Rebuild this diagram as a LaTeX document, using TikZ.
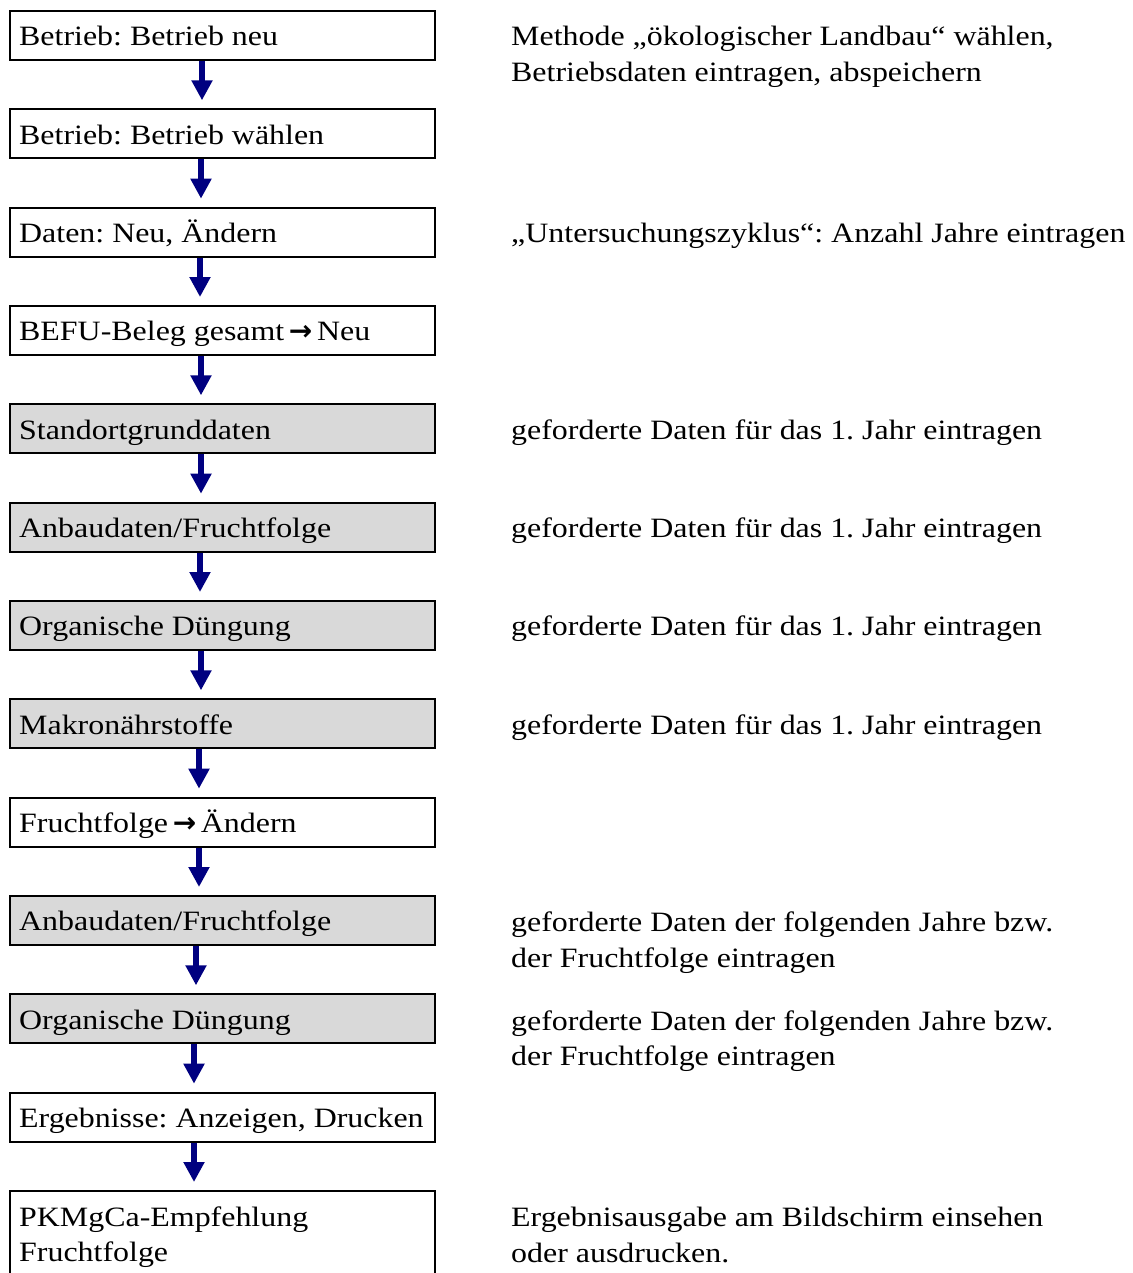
\documentclass[tikz,border=0pt]{standalone}
\usepackage{fontspec}
\setmainfont{Liberation Serif}[FakeStretch=1.14]
\newfontfamily\arrfont{DejaVu Sans}
\usetikzlibrary{arrows.meta}
\definecolor{boxgray}{RGB}{217,217,217}
\definecolor{arrnavy}{RGB}{0,0,128}
\newcommand{\rarr}{\,{\arrfont\bfseries →}\,}
\frenchspacing
\tikzset{
  stepbox/.style={draw=black, line width=2pt, rectangle, minimum width=425pt, minimum height=49pt, anchor=north west, inner sep=0pt},
  graybox/.style={stepbox, fill=boxgray},
  boxtext/.style={anchor=base west, inner sep=0pt, font=\fontsize{28}{35.5}\selectfont, align=left},
  flowarrow/.style={draw=arrnavy, line width=6pt, -{Triangle[width=20pt,length=20pt]}, shorten >=8pt},
}
\begin{document}
\begin{tikzpicture}[x=1pt,y=1pt]
\useasboundingbox (0,0) rectangle (1132,-1273);
\clip (0,0) rectangle (1132,-1273);
% boxes
\node[stepbox] (b1)  at (9,-10) {};
\node[stepbox] (b2)  at (9,-108.33) {};
\node[stepbox] (b3)  at (9,-206.67) {};
\node[stepbox] (b4)  at (9,-305) {};
\node[graybox] (b5)  at (9,-403.33) {};
\node[graybox] (b6)  at (9,-501.67) {};
\node[graybox] (b7)  at (9,-600) {};
\node[graybox] (b8)  at (9,-698.33) {};
\node[stepbox] (b9)  at (9,-796.67) {};
\node[graybox] (b10) at (9,-895) {};
\node[graybox] (b11) at (9,-993.33) {};
\node[stepbox] (b12) at (9,-1091.67) {};
\node[stepbox, minimum height=130pt] (b13) at (9,-1190) {};
% box texts (base anchor = baseline of the last line)
\node[boxtext] (t1)  at ([xshift=10pt,yshift=-35.7pt]b1.north west)  {Betrieb: Betrieb neu};
\node[boxtext] (t2)  at ([xshift=10pt,yshift=-35.7pt]b2.north west)  {Betrieb: Betrieb wählen};
\node[boxtext] (t3)  at ([xshift=10pt,yshift=-35.7pt]b3.north west)  {Daten: Neu, Ändern};
\node[boxtext] (t4)  at ([xshift=10pt,yshift=-35.7pt]b4.north west)  {BEFU-Beleg gesamt\rarr Neu};
\node[boxtext] (t5)  at ([xshift=10pt,yshift=-35.7pt]b5.north west)  {Standortgrunddaten};
\node[boxtext] (t6)  at ([xshift=10pt,yshift=-35.7pt]b6.north west)  {Anbaudaten/Fruchtfolge};
\node[boxtext] (t7)  at ([xshift=10pt,yshift=-35.7pt]b7.north west)  {Organische Düngung};
\node[boxtext] (t8)  at ([xshift=10pt,yshift=-35.7pt]b8.north west)  {Makronährstoffe};
\node[boxtext] (t9)  at ([xshift=10pt,yshift=-35.7pt]b9.north west)  {Fruchtfolge\rarr Ändern};
\node[boxtext] (t10) at ([xshift=10pt,yshift=-35.7pt]b10.north west) {Anbaudaten/Fruchtfolge};
\node[boxtext] (t11) at ([xshift=10pt,yshift=-35.7pt]b11.north west) {Organische Düngung};
\node[boxtext] (t12) at ([xshift=10pt,yshift=-35.7pt]b12.north west) {Ergebnisse: Anzeigen, Drucken};
\node[boxtext, font=\fontsize{28}{34.5}\selectfont] (t13) at ([xshift=10pt,yshift=-71pt]b13.north west)  {PKMgCa-Empfehlung\\Fruchtfolge};
% right-hand notes
\node[boxtext, font=\fontsize{28}{36}\selectfont] (r1)  at (511,-82)   {Methode „ökologischer Landbau“ wählen,\\Betriebsdaten eintragen, abspeichern};
\node[boxtext] (r3)  at (511,-242.37) {„Untersuchungszyklus“: Anzahl Jahre eintragen};
\node[boxtext] (r5)  at (511,-439.03) {geforderte Daten für das 1. Jahr eintragen};
\node[boxtext] (r6)  at (511,-537.37) {geforderte Daten für das 1. Jahr eintragen};
\node[boxtext] (r7)  at (511,-635.7)  {geforderte Daten für das 1. Jahr eintragen};
\node[boxtext] (r8)  at (511,-734.03) {geforderte Daten für das 1. Jahr eintragen};
\node[boxtext] (r10) at (511,-967.3)  {geforderte Daten der folgenden Jahre bzw.\\der Fruchtfolge eintragen};
\node[boxtext] (r11) at (511,-1065.6) {geforderte Daten der folgenden Jahre bzw.\\der Fruchtfolge eintragen};
\node[boxtext] (r13) at (511,-1262)   {Ergebnisausgabe am Bildschirm einsehen\\oder ausdrucken.};
% arrows
\draw[flowarrow] ([xshift=-20.5pt]b1.south)  -- ([xshift=-20.5pt]b2.north);
\draw[flowarrow] ([xshift=-21.5pt]b2.south)  -- ([xshift=-21.5pt]b3.north);
\draw[flowarrow] ([xshift=-22.5pt]b3.south)  -- ([xshift=-22.5pt]b4.north);
\draw[flowarrow] ([xshift=-21.5pt]b4.south)  -- ([xshift=-21.5pt]b5.north);
\draw[flowarrow] ([xshift=-21.5pt]b5.south)  -- ([xshift=-21.5pt]b6.north);
\draw[flowarrow] ([xshift=-22.5pt]b6.south)  -- ([xshift=-22.5pt]b7.north);
\draw[flowarrow] ([xshift=-21.5pt]b7.south)  -- ([xshift=-21.5pt]b8.north);
\draw[flowarrow] ([xshift=-23.5pt]b8.south)  -- ([xshift=-23.5pt]b9.north);
\draw[flowarrow] ([xshift=-23.5pt]b9.south)  -- ([xshift=-23.5pt]b10.north);
\draw[flowarrow] ([xshift=-26.5pt]b10.south) -- ([xshift=-26.5pt]b11.north);
\draw[flowarrow] ([xshift=-28.5pt]b11.south) -- ([xshift=-28.5pt]b12.north);
\draw[flowarrow] ([xshift=-28.5pt]b12.south) -- ([xshift=-28.5pt]b13.north);
\end{tikzpicture}
\end{document}
